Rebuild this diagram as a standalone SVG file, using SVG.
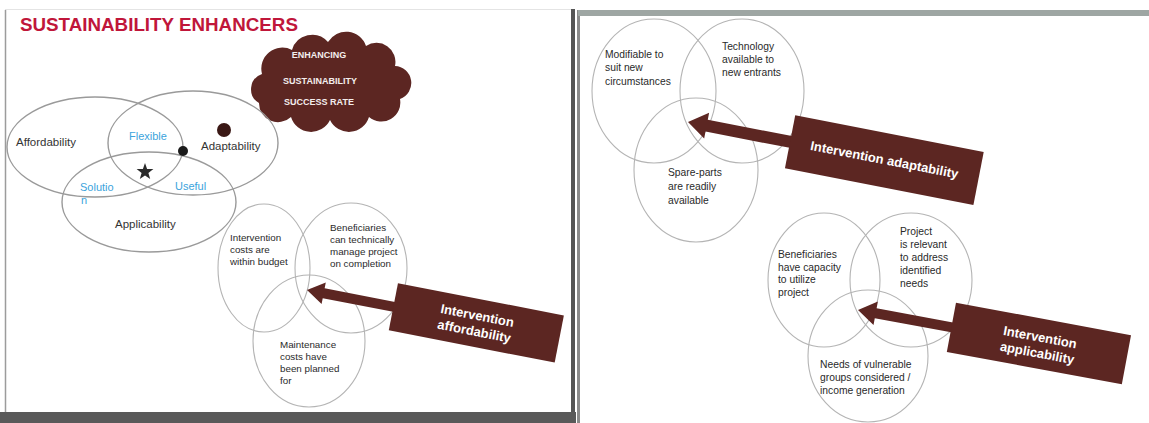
<svg xmlns="http://www.w3.org/2000/svg" width="1149" height="423" viewBox="0 0 1149 423">
<defs>
<style>
text{font-family:"Liberation Sans",Arial,sans-serif;}
.big{fill:none;stroke:#9a9a9a;stroke-width:1.4;}
.sm{fill:none;stroke:#b4b4b4;stroke-width:1.1;}
.lbl{font-size:11.5px;fill:#333;}
.blu{font-size:11px;fill:#3ba3dc;}
.t{font-size:9.8px;fill:#2a2a2a;}
.t2{font-size:10.3px;fill:#2a2a2a;}
.brown{fill:#5c2622;}
.wt{font-size:13px;font-weight:bold;fill:#fff;text-anchor:middle;}
.ct{font-size:9px;font-weight:bold;fill:#f4eeee;text-anchor:middle;}
</style>
</defs>
<rect width="1149" height="423" fill="#fff"/>
<g id="frames">
<line x1="5.5" y1="10" x2="5.5" y2="412" stroke="#9c9c9c" stroke-width="1.5"/>
<line x1="5" y1="9.5" x2="572" y2="9.5" stroke="#e4e4e4" stroke-width="1"/>
<rect x="571" y="9" width="4" height="404" fill="#555"/>
<rect x="0" y="412" width="576" height="11" fill="#595959"/>
<rect x="577" y="10" width="3" height="413" fill="#8a8a8a"/>
<rect x="578" y="10" width="571" height="6" fill="#9ea6a3"/>
</g>

<g id="title"><text x="20" y="31" font-size="18.8" font-weight="bold" fill="#c0163a">SUSTAINABILITY ENHANCERS</text></g>

<g id="cloud">
<path class="brown" d="M 262 74 A 21 21 0 0 1 292 50 A 21 21 0 0 1 328 42 A 21 21 0 0 1 366 46 A 19 19 0 0 1 395 66 A 17 17 0 0 1 400 99 A 19 19 0 0 1 369 117 A 21 21 0 0 1 330 120 A 21 21 0 0 1 291 117 A 19 19 0 0 1 259 103 A 16 16 0 0 1 262 74 Z"/>
<text class="ct" x="319" y="58">ENHANCING</text>
<text class="ct" x="320" y="84">SUSTAINABILITY</text>
<text class="ct" x="319" y="105">SUCCESS RATE</text>
</g>

<g id="venn-main">
<ellipse id="affordability" class="big" cx="95" cy="147" rx="88" ry="50"/>
<ellipse id="adaptability" class="big" cx="193" cy="143" rx="85" ry="52"/>
<ellipse id="applicability" class="big" cx="149" cy="202" rx="87" ry="50"/>
<text class="lbl" x="16" y="146">Affordability</text>
<text class="lbl" x="201" y="150">Adaptability</text>
<text class="lbl" x="115" y="228">Applicability</text>
<text class="blu" x="129" y="140">Flexible</text>
<text class="blu" x="80" y="191">Solutio</text>
<text class="blu" x="81" y="204">n</text>
<text class="blu" x="175" y="190">Useful</text>
<circle cx="224" cy="130" r="7" fill="#3a1815"/>
<circle cx="183" cy="151" r="5" fill="#1a1a1a"/>
<polygon fill="#2b2b2b" points="145,163 147.1,168.9 153.4,169.1 148.4,172.9 150.2,178.9 145,175.4 139.8,178.9 141.6,172.9 136.6,169.1 142.9,168.9"/>
</g>

<g id="venn-affordability">
<ellipse class="sm" cx="264" cy="268" rx="46" ry="64"/>
<ellipse class="sm" cx="351" cy="268" rx="56" ry="65"/>
<ellipse class="sm" cx="309" cy="341" rx="56" ry="66"/>
<text class="t" x="230" y="241">Intervention</text>
<text class="t" x="230" y="253">costs are</text>
<text class="t" x="230" y="265">within budget</text>
<text class="t" x="330" y="231">Beneficiaries</text>
<text class="t" x="330" y="243">can technically</text>
<text class="t" x="330" y="255">manage project</text>
<text class="t" x="330" y="267">on completion</text>
<text class="t" x="280" y="348">Maintenance</text>
<text class="t" x="280" y="360">costs have</text>
<text class="t" x="280" y="372">been planned</text>
<text class="t" x="280" y="384">for</text>
</g>

<g id="venn-adaptability">
<ellipse class="sm" cx="654" cy="91" rx="62" ry="72"/>
<ellipse class="sm" cx="742" cy="91" rx="62" ry="72"/>
<ellipse class="sm" cx="696" cy="170" rx="62" ry="72"/>
<text class="t2" x="605" y="58">Modifiable to</text>
<text class="t2" x="605" y="71">suit new</text>
<text class="t2" x="605" y="85">circumstances</text>
<text class="t2" x="722" y="50">Technology</text>
<text class="t2" x="722" y="63">available to</text>
<text class="t2" x="722" y="76">new entrants</text>
<text class="t2" x="668" y="176">Spare-parts</text>
<text class="t2" x="668" y="190">are readily</text>
<text class="t2" x="668" y="204">available</text>
</g>

<g id="venn-applicability">
<ellipse class="sm" cx="824" cy="280" rx="56" ry="67"/>
<ellipse class="sm" cx="911" cy="280" rx="61" ry="67"/>
<ellipse class="sm" cx="868" cy="356" rx="60" ry="66"/>
<text class="t2" x="778" y="258">Beneficiaries</text>
<text class="t2" x="778" y="270.5">have capacity</text>
<text class="t2" x="778" y="283">to utilize</text>
<text class="t2" x="778" y="295.5">project</text>
<text class="t2" x="900" y="235">Project</text>
<text class="t2" x="900" y="248">is relevant</text>
<text class="t2" x="900" y="261">to address</text>
<text class="t2" x="900" y="274">identified</text>
<text class="t2" x="900" y="287">needs</text>
<text class="t2" x="820" y="368">Needs of vulnerable</text>
<text class="t2" x="820" y="381">groups considered /</text>
<text class="t2" x="820" y="394">income generation</text>
</g>

<g id="connectors">
<polygon class="brown" transform="translate(307,290) rotate(11)" points="0,0 17,-11 17,-5 90,-5 90,5 17,5 17,11"/>
<polygon class="brown" transform="translate(688,122) rotate(11)" points="0,0 19,-13 19,-6 106,-6 106,6 19,6 19,13"/>
<polygon class="brown" transform="translate(858,310) rotate(10.5)" points="0,0 18,-12 18,-5 97,-5 97,5 18,5 18,12"/>
</g>

<g id="box-affordability" transform="translate(307,290) rotate(11)">
<rect class="brown" x="88" y="-24" width="169" height="48"/>
<text class="wt" x="172" y="-3">Intervention</text>
<text class="wt" x="172" y="13">affordability</text>
</g>

<g id="box-adaptability" transform="translate(688,122) rotate(11)">
<rect class="brown" x="104" y="-27" width="192" height="54"/>
<text class="wt" x="200" y="4">Intervention adaptability</text>
</g>

<g id="box-applicability" transform="translate(858,310) rotate(10.5)">
<rect class="brown" x="95" y="-25" width="178" height="50"/>
<text class="wt" x="184" y="-2">Intervention</text>
<text class="wt" x="184" y="14">applicability</text>
</g>
</svg>
